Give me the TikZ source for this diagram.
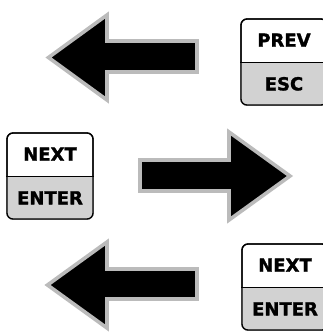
\documentclass[tikz,border=0pt]{standalone}
\usepackage{fontspec}
\usetikzlibrary{calc}
\newfontfamily\keyfont{DejaVu Sans}[BoldFont={DejaVu Sans Bold},BoldFeatures={FakeBold=1.6}]
\begin{document}
\begin{tikzpicture}[x=1pt,y=-1pt,
  keybox/.style={draw=black,line width=1.3pt,rounded corners=6pt,minimum width=86pt,minimum height=86pt,inner sep=0pt},
  keylabel/.style={inner sep=0pt,font=\keyfont\bfseries\fontsize{18}{18}\selectfont},
  bigarrow/.style={fill=black,draw=arrowgray,line width=3.6pt,line join=miter}]
\definecolor{keygray}{HTML}{D2D2D2}
\definecolor{arrowgray}{HTML}{BBBBBB}
\useasboundingbox (0,0) rectangle (323,333);
\newcommand\keybtnx[4]{%
  \node[keybox] (#1) at #2 {};
  \begin{scope}
    \clip[rounded corners=6pt] (#1.south west) rectangle (#1.north east);
    \fill[keygray] (#1.west) rectangle (#1.south east);
  \end{scope}
  \node[keybox] at #2 {};
  \draw[line width=0.8pt] (#1.west) -- (#1.east);
  \node[keylabel] (#1t) at ($(#1.north)!0.5!(#1.center)$) {#3};
  \node[keylabel] (#1b) at ($(#1.south)!0.5!(#1.center)$) {#4};
}
% keys
\keybtnx{k1}{(284,62)}{PREV}{ESC}
\keybtnx{k2}{(50,176)}{NEXT}{ENTER}
\keybtnx{k3}{(285,287)}{NEXT}{ENTER}
% arrow 1 (left)
\coordinate (a1tip) at (48.5,57.5);
\draw[bigarrow] (a1tip) -- (107,15) -- (107,41) -- (197,41) -- (197,72) -- (107,72) -- (107,100) -- cycle;
% arrow 2 (right)
\coordinate (a2tip) at (290,176);
\draw[bigarrow] (a2tip) -- (229,132) -- (229,160) -- (140,160) -- (140,191) -- (229,191) -- (229,220) -- cycle;
% arrow 3 (left)
\coordinate (a3tip) at (47.5,285);
\draw[bigarrow] (a3tip) -- (107,242) -- (107,269) -- (197,269) -- (197,299) -- (107,299) -- (107,328) -- cycle;
\end{tikzpicture}
\end{document}
